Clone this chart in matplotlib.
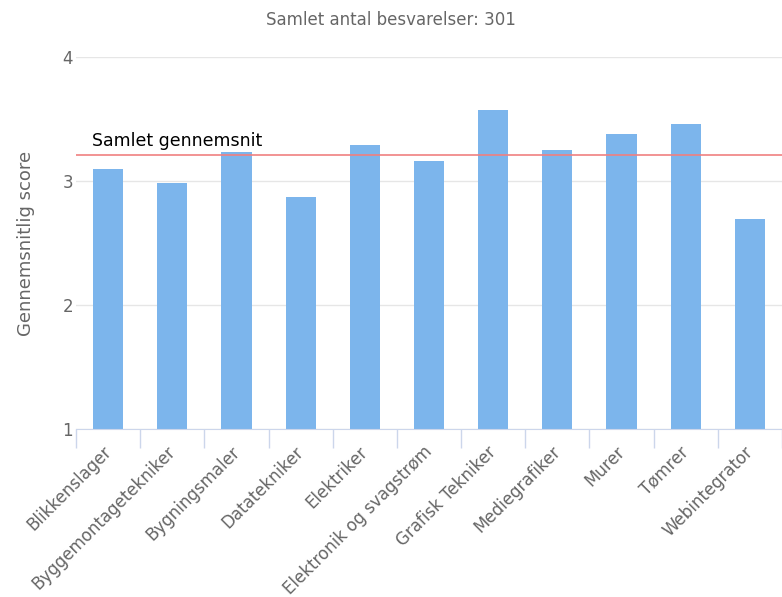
import matplotlib.pyplot as plt
import matplotlib.transforms as mtransforms
import numpy as np

categories = ["Blikkenslager", "Byggemontagetekniker", "Bygningsmaler", "Datatekniker",
              "Elektriker", "Elektronik og svagstrøm", "Grafisk Tekniker", "Mediegrafiker",
              "Murer", "Tømrer", "Webintegrator"]
scores = [3.10, 2.98, 3.23, 2.87, 3.29, 3.16, 3.57, 3.25, 3.38, 3.46, 2.69]
overall_mean = 3.21
total_answers = 301

fig = plt.figure(figsize=(7.82, 5.97), dpi=100)
ax = fig.add_axes([76 / 782, (597 - 429) / 597, 1 - 76 / 782, (429 - 57) / 597])

x = np.arange(len(categories))
# bars start at the axis floor (1)
ax.bar(x, [s - 1 for s in scores], width=0.47, bottom=1, color="#7cb5ec", zorder=3)

ax.axhline(overall_mean, color="#f08080", lw=1.2, zorder=4)
ax.text(-0.25, overall_mean + 0.04, "Samlet gennemsnit", fontsize=12.5, color="black",
        va="bottom", ha="left", zorder=5)

ax.set_xlim(-0.5, len(categories) - 0.5)
ax.set_ylim(1, 4)
ax.set_yticks([1, 2, 3, 4])
ax.yaxis.grid(True, color="#e6e6e6", lw=1, zorder=0)
ax.tick_params(axis="y", length=0, labelsize=12, labelcolor="#666666", pad=2)

ax.set_xticks(x)
ax.set_xticklabels(categories, rotation=45, ha="right", rotation_mode="anchor",
                   fontsize=12, color="#666666")
ax.tick_params(axis="x", which="major", length=0, pad=10)
shift = mtransforms.ScaledTranslation(-6 / 100, 0, fig.dpi_scale_trans)
for lab in ax.get_xticklabels():
    lab.set_transform(lab.get_transform() + shift)
ax.set_xticks(np.arange(len(categories) + 1) - 0.5, minor=True)
ax.tick_params(axis="x", which="minor", length=14, color="#ccd6eb", width=1)

for side in ["top", "right", "left"]:
    ax.spines[side].set_visible(False)
ax.spines["bottom"].set_color("#ccd6eb")
ax.spines["bottom"].set_zorder(6)

ax.set_ylabel("Gennemsnitlig score", fontsize=13, color="#666666", labelpad=20)
fig.text(0.5, 1 - 20 / 597, "Samlet antal besvarelser: {}".format(total_answers),
         ha="center", va="center", fontsize=12, color="#666666")

plt.savefig("out.png", dpi=100)
